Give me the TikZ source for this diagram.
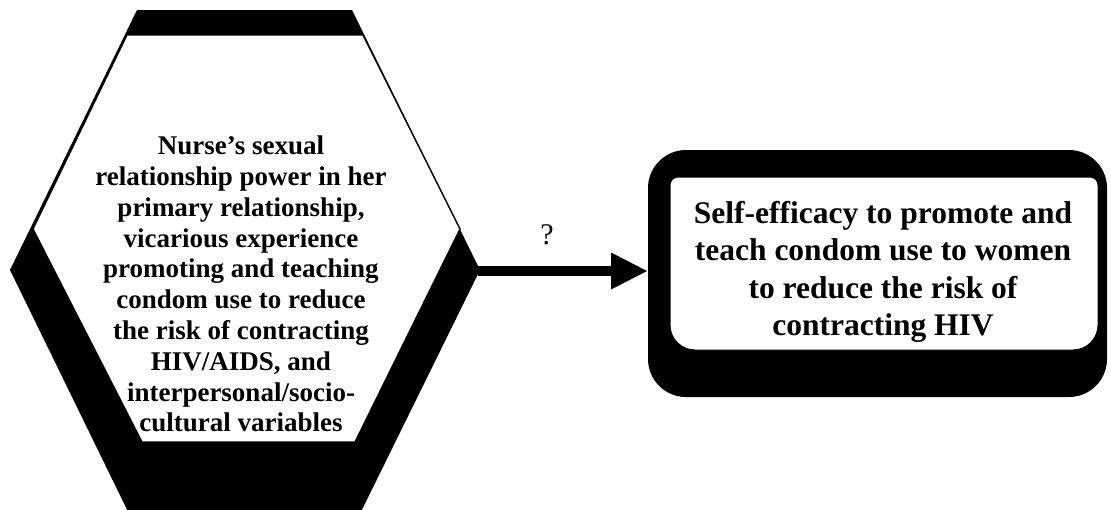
\documentclass[tikz,border=0pt]{standalone}
\usepackage{fontspec}
\setmainfont{Liberation Serif}
\usetikzlibrary{arrows.meta}
\tikzset{
  hextext/.style={align=center, font=\fontsize{27}{30.8}\selectfont\bfseries, inner sep=0pt},
  boxtext/.style={align=center, font=\fontsize{31.5}{37.3}\selectfont\bfseries, inner sep=0pt},
  qlabel/.style={font=\fontsize{30}{32}\selectfont, inner sep=0pt},
  link/.style={line width=10pt, -{Triangle[length=37pt, width=34pt]}}
}
\begin{document}
\begin{tikzpicture}[x=1pt, y=-1pt]
\useasboundingbox (0,0) rectangle (1111,509);
\fill[white] (0,0) rectangle (1111,509);
\begin{scope}
\clip (0,0) rectangle (1111,509);
% hexagon: black extrusion and white face
\fill[black] (137,10) -- (352,10) -- (480,270) -- (352,530) -- (137,530) -- (10,270) -- cycle;
\filldraw[fill=white, draw=black, line width=1.4pt] (127,35) -- (363,35) -- (460,229) -- (355,442) -- (142,442) -- (33,229) -- cycle;
% rounded box: black shadow and white face
\fill[black, rounded corners=38pt] (648,150) rectangle (1107,397);
\path[fill=white, draw=black, line width=1pt] (884,177) [rounded corners=8pt] -- (1098,177) [rounded corners=25pt] -- (1098,350) -- (670,350) [rounded corners=8pt] -- (670,177) -- cycle;
\end{scope}
\node[hextext] (hex) at (241,284) {Nurse’s sexual\\relationship power in her\\primary relationship,\\vicarious experience\\promoting and teaching\\condom use to reduce\\the risk of contracting\\HIV/AIDS, and\\interpersonal/socio-\\cultural variables};
\node[boxtext] (box) at (883,272) {Self-efficacy to promote and\\teach condom use to women\\to reduce the risk of\\contracting HIV};
\coordinate (hexR) at (478,271);
\coordinate (boxL) at (648,271);
\draw[link] (hexR) -- (boxL);
\node[qlabel] (q) at (547,235) {?};
\end{tikzpicture}
\end{document}
